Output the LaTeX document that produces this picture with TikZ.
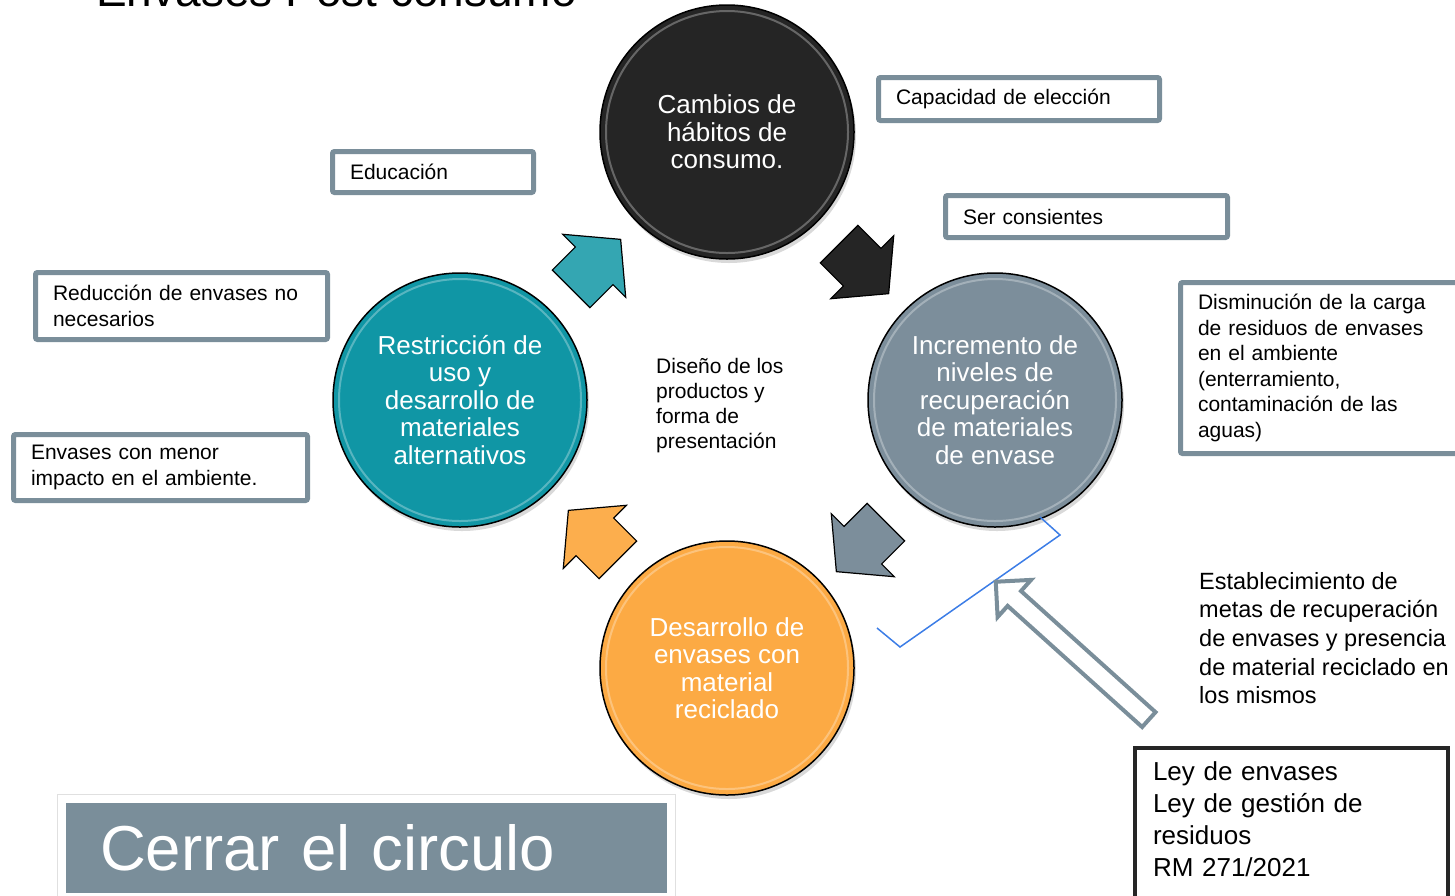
\documentclass[tikz,border=0pt]{standalone}
\usepackage{fontspec}
\setmainfont{Liberation Sans}
\usetikzlibrary{shapes,shapes.arrows,shadows,positioning}

\definecolor{cnegro}{HTML}{252525}
\definecolor{cturquesa}{HTML}{1096A5}
\definecolor{cgrisazul}{HTML}{7C8E9B}
\definecolor{cnaranja}{HTML}{FCAA44}
\definecolor{cborde}{HTML}{7A8E9A}
\definecolor{cazul}{HTML}{3C7DE6}

\begin{document}
\begin{tikzpicture}[x=1pt, y=-1pt, node distance=268pt, on grid,
    circulo/.style={circle, draw=black, line width=1.5pt, minimum size=254pt, inner sep=0pt,
        align=center, text=white, font=\fontsize{26}{27.5}\selectfont,
        drop shadow={opacity=0.3, shadow xshift=2pt, shadow yshift=-4pt},
        path picture={\draw[white, opacity=.3, line width=2pt] (path picture bounding box.center) circle (121pt);}},
    caja/.style={draw=cborde, line width=5pt, fill=white, rounded corners=2pt, inner xsep=17.5pt,
        inner ysep=0pt, align=left, anchor=north west, font=\fontsize{21}{25.5}\selectfont},
    flecha/.style={single arrow, draw=black, line width=1.2pt, minimum height=70pt,
        single arrow head extend=18pt, single arrow tip angle=100, inner xsep=0pt, inner ysep=26pt},
    texto/.style={anchor=west, align=left, inner sep=0pt}]
    \useasboundingbox (0,0) rectangle (1455,895);
    % titulo cortado arriba
    \node[anchor=base west, inner sep=0pt, font=\fontsize{46}{50}\selectfont] (titulo) at (96,6) {Envases Post consumo};

    % ciclo
    \node[circulo, fill=cnegro] (cambios) at (727,132) {Cambios de\\hábitos de\\consumo.};
    \node[circulo, fill=cgrisazul] (incremento) [below right=268pt and 268pt of cambios] {Incremento de\\niveles de\\recuperación\\de materiales\\de envase};
    \node[circulo, fill=cturquesa] (restriccion) [below left=268pt and 267pt of cambios] {Restricción de\\uso y\\desarrollo de\\materiales\\alternativos};
    \node[circulo, fill=cnaranja] (desarrollo) [below=536pt of cambios] {Desarrollo de\\envases con\\material\\reciclado};

    \node[flecha, fill=cturquesa!85!white, rotate=45] (flechaA) at (588,272) {};
    \node[flecha, fill=cnegro, rotate=-45] (flechaB) at (856,261) {};
    \node[flecha, fill=cgrisazul, rotate=-135] (flechaC) at (869,539) {};
    \node[flecha, fill=cnaranja!95!white, rotate=135] (flechaD) at (601,543) {};

    \node[texto, font=\fontsize{21}{25}\selectfont] (diseno) at (656,406) {Diseño de los\\productos y\\forma de\\presentación};

    % cajas
    \node[caja, minimum height=41pt, text width=166pt] (educacion) at (330,149) {Educación};
    \node[caja, minimum height=43pt, text width=246pt] (eleccion) at (876,75) {Capacidad de elección};
    \node[caja, minimum height=42pt, text width=247pt] (consientes) at (943,193) {Ser consientes};
    \node[caja, minimum height=171pt, text width=260pt] (disminucion) at (1178,280) {Disminución de la carga\\de residuos de envases\\en el ambiente\\(enterramiento,\\contaminación de las\\aguas)};
    \node[caja, minimum height=67pt, text width=257pt] (reduccion) at (33,270) {Reducción de envases no\\necesarios};
    \node[caja, minimum height=66pt, text width=259pt] (menor) at (11,432) {Envases con menor\\impacto en el ambiente.};

    % metas y leyes
    \coordinate (b1) at (1040,517);
    \coordinate (b2) at (1060,535);
    \coordinate (b3) at (900,647);
    \coordinate (b4) at (877,628);
    \draw[cazul, line width=1.5pt] (b1) -- (b2) -- (b3) -- (b4);
    \node[single arrow, draw=cborde, fill=white, line width=4pt, minimum height=206pt,
        single arrow head extend=15pt, single arrow tip angle=90, inner xsep=0pt, inner ysep=8pt, rotate=138] (indica) at (1076,654) {};

    \node[texto, font=\fontsize{23.5}{28.7}\selectfont] (metas) at (1199,638) {Establecimiento de\\metas de recuperación\\de envases y presencia\\de material reciclado en\\los mismos};
    \node[draw=black!85, line width=4pt, anchor=north west, align=left, text width=277pt, inner xsep=18pt,
        inner ysep=14pt, text depth=190pt, font=\fontsize{26}{32}\selectfont] (ley) at (1133,746) {Ley de envases\\Ley de gestión de\\residuos\\RM 271/2021};

    \node[fill=cborde, draw=white, line width=8pt, preaction={draw=black!12, line width=10pt},
        anchor=north west, minimum width=609pt, minimum height=98pt, text width=533pt, inner xsep=38pt,
        align=left, text=white, font=\fontsize{63.5}{70}\selectfont] (cerrar) at (58,795) {Cerrar el circulo};
\end{tikzpicture}
\end{document}
